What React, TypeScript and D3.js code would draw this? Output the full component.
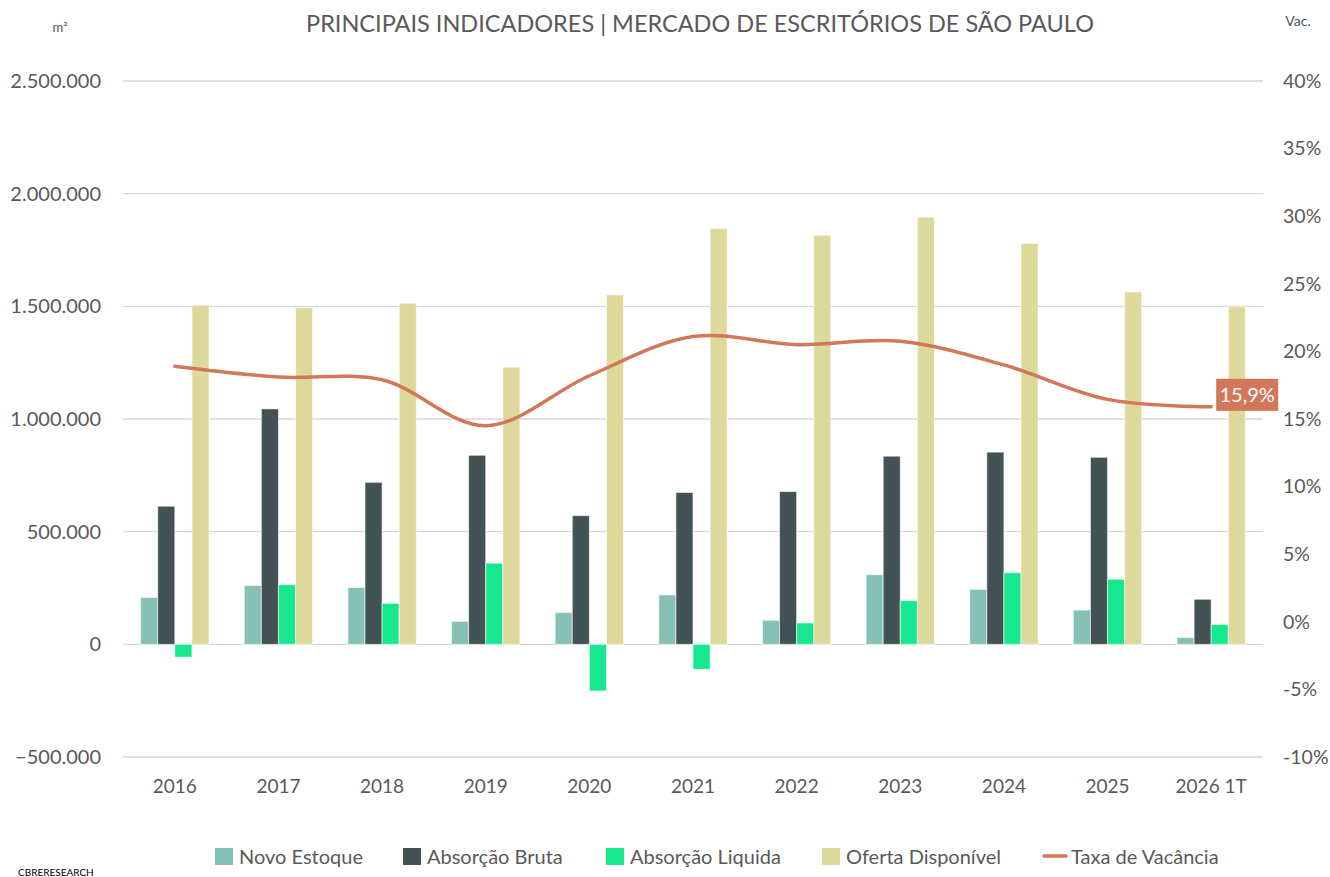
import * as d3 from "d3";

const categories = ["2016", "2017", "2018", "2019", "2020", "2021", "2022", "2023", "2024", "2025", "2026 1T"];
const novoEstoque = [208000, 261000, 252000, 102000, 141000, 219000, 107000, 309000, 244000, 152000, 30000];
const absorcaoBruta = [613000, 1045000, 719000, 839000, 571000, 674000, 678000, 835000, 853000, 830000, 200000];
const absorcaoLiquida = [-57000, 265000, 182000, 360000, -207000, -111000, 95000, 194000, 318000, 289000, 88000];
const ofertaDisponivel = [1505000, 1494000, 1514000, 1230000, 1551000, 1846000, 1816000, 1896000, 1779000, 1564000, 1498000];
const taxaVacancia = [18.9, 18.1, 17.9, 14.5, 18.2, 21.1, 20.5, 20.75, 19.0, 16.45, 15.9];

const leftTicks = [-500000, 0, 500000, 1000000, 1500000, 2000000, 2500000];
const rightTicks = [-10, -5, 0, 5, 10, 15, 20, 25, 30, 35, 40];

const barSeries = [
  { name: "Novo Estoque", values: novoEstoque, color: "#85C1B4" },
  { name: "Absorção Bruta", values: absorcaoBruta, color: "#435254" },
  { name: "Absorção Liquida", values: absorcaoLiquida, color: "#17E88F" },
  { name: "Oferta Disponível", values: ofertaDisponivel, color: "#DDD99B" },
];
const lineColor = "#D2775A";

const W = 1330;
const H = 877;
const font = "Lato, 'Open Sans', sans-serif";
const textColor = "#595959";

export default function App() {
  const x0 = d3.scaleBand<string>().domain(categories).range([123, 1263]).paddingInner(0.34).paddingOuter(0.17);
  const x1 = d3.scaleBand<string>().domain(barSeries.map((s) => s.name)).range([0, x0.bandwidth()]);
  const y = d3.scaleLinear().domain([-500000, 2500000]).range([757, 81]);
  const y2 = d3.scaleLinear().domain([-10, 40]).range([757, 81]);
  const fmt = (v: number) => d3.format(",")(v).replace(/,/g, ".");

  const cx = (c: string) => (x0(c) ?? 0) + x0.bandwidth() / 2;
  const line = d3
    .line<number>()
    .x((_, i) => cx(categories[i]))
    .y((d) => y2(d))
    .curve(d3.curveCatmullRom.alpha(0.5));

  const lastI = taxaVacancia.length - 1;
  const lx = cx(categories[lastI]);
  const ly = y2(taxaVacancia[lastI]);

  // legend positions
  const legend = [
    { name: "Novo Estoque", x: 215, color: "#85C1B4" },
    { name: "Absorção Bruta", x: 403, color: "#435254" },
    { name: "Absorção Liquida", x: 606, color: "#17E88F" },
    { name: "Oferta Disponível", x: 822, color: "#DDD99B" },
  ];

  return (
    <div style={{ position: "absolute", left: 0, top: 0 }}>
      <svg width={W} height={H} style={{ display: "block", background: "#fff" }} fontFamily={font}>
        <text x={700} y={32} textAnchor="middle" fontSize={23.5} fill={textColor}>
          PRINCIPAIS INDICADORES | MERCADO DE ESCRITÓRIOS DE SÃO PAULO
        </text>
        <text x={60} y={32} textAnchor="middle" fontSize={13} fill={textColor}>
          m²
        </text>
        <text x={1298} y={26} textAnchor="middle" fontSize={14} fill="#44546A">
          Vac.
        </text>

        {leftTicks.map((t) => (
          <g key={t}>
            <line x1={123} x2={1263} y1={y(t)} y2={y(t)} stroke="#D9D9D9" strokeWidth={1.3} />
            <text x={101} y={y(t)} dy="0.35em" textAnchor="end" fontSize={20} fill={textColor}>
              {t === 0 ? "0" : fmt(t)}
            </text>
          </g>
        ))}
        {rightTicks.map((t) => (
          <text key={t} x={1283} y={y2(t)} dy="0.35em" textAnchor="start" fontSize={19.5} fill={textColor}>
            {t}%
          </text>
        ))}

        {categories.map((c, i) => (
          <g key={c} transform={`translate(${x0(c)},0)`}>
            {barSeries.map((s) => {
              const v = s.values[i];
              return (
                <rect
                  key={s.name}
                  x={x1(s.name)}
                  y={y(Math.max(0, v))}
                  width={x1.bandwidth()}
                  height={Math.abs(y(v) - y(0))}
                  fill={s.color}
                  stroke="#ffffff"
                  strokeOpacity={0.6}
                  strokeWidth={1}
                />
              );
            })}
          </g>
        ))}

        {categories.map((c) => (
          <text key={c} x={cx(c)} y={786} dy="0.35em" textAnchor="middle" fontSize={19} fill={textColor}>
            {c}
          </text>
        ))}

        <path d={line(taxaVacancia) ?? ""} fill="none" stroke={lineColor} strokeWidth={3.5} strokeLinecap="round" />
        <rect x={lx + 5} y={ly - 28} width={62} height={32} fill={lineColor} />
        <text x={lx + 36} y={ly - 12} dy="0.35em" textAnchor="middle" fontSize={20} fill="#ffffff">
          {String(taxaVacancia[lastI]).replace(".", ",")}%
        </text>

        {legend.map((l) => (
          <g key={l.name}>
            <rect x={l.x} y={848} width={18} height={17} fill={l.color} />
            <text x={l.x + 24} y={857} dy="0.35em" fontSize={20} fill={textColor}>
              {l.name}
            </text>
          </g>
        ))}
        <line x1={1044} x2={1066} y1={856} y2={856} stroke={lineColor} strokeWidth={3.5} strokeLinecap="round" />
        <text x={1071} y={857} dy="0.35em" fontSize={20} fill={textColor}>
          Taxa de Vacância
        </text>

        <text x={18} y={876} fontSize={10} fill="#000">
          CBRERESEARCH
        </text>
      </svg>
    </div>
  );
}
